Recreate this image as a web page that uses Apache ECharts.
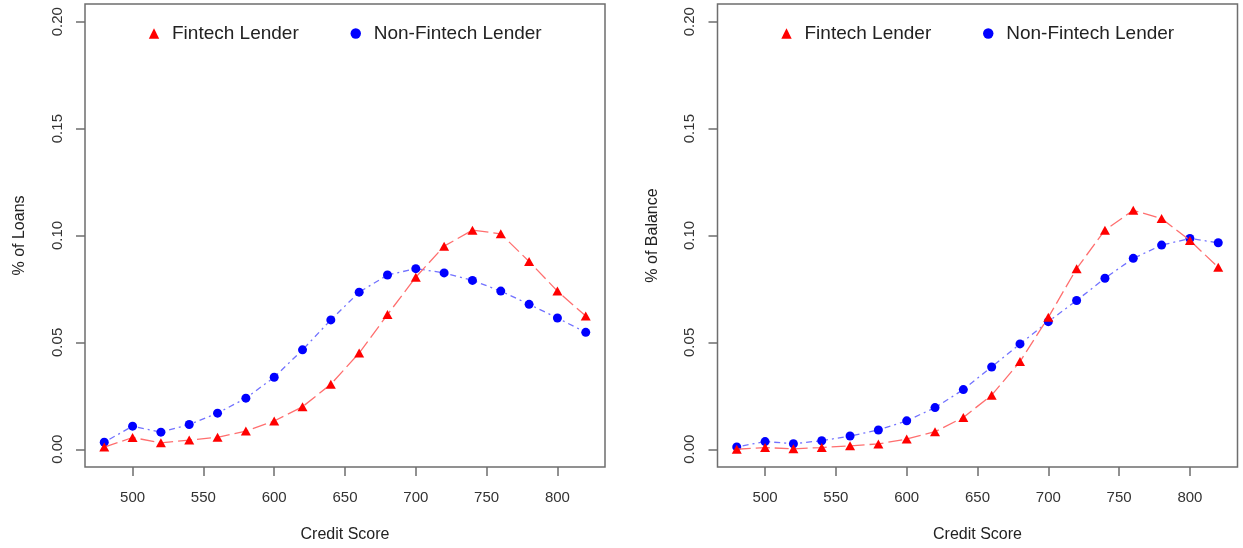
<!DOCTYPE html>
<html>
<head>
<meta charset="utf-8">
<script src="https://cdn.jsdelivr.net/npm/echarts@6/dist/echarts.min.js"></script>
<style>
  html, body { margin: 0; padding: 0; background: #fff; }
  #chart { width: 1243px; height: 548px; }
</style>
</head>
<body>
<div id="chart"></div>
<script>
const scores = [480, 500, 520, 540, 560, 580, 600, 620, 640, 660, 680, 700, 720, 740, 760, 780, 800, 820];

// left panel: share of loans
const loansFintech = [0.001, 0.0055, 0.003, 0.0043, 0.0056, 0.0085, 0.0132, 0.0199, 0.0304, 0.045, 0.063, 0.0805, 0.095, 0.1025, 0.1008, 0.0878, 0.074, 0.0623];
const loansNonFintech = [0.0033, 0.0108, 0.008, 0.0116, 0.0169, 0.0239, 0.0337, 0.0465, 0.0605, 0.0735, 0.0815, 0.0845, 0.0825, 0.079, 0.074, 0.0678, 0.0614, 0.0547];

// right panel: share of balance
const balanceFintech = [0.0, 0.0008, 0.0002, 0.0008, 0.0016, 0.0025, 0.0048, 0.0082, 0.0149, 0.0253, 0.041, 0.0617, 0.0845, 0.1025, 0.1118, 0.1079, 0.0977, 0.0851];
const balanceNonFintech = [0.0011, 0.0036, 0.0026, 0.004, 0.0062, 0.009, 0.0133, 0.0195, 0.0279, 0.0385, 0.0493, 0.0597, 0.0696, 0.080, 0.0893, 0.0955, 0.0986, 0.0966];

const xTicks = [500, 550, 600, 650, 700, 750, 800];
const yTicks = [0, 0.05, 0.1, 0.15, 0.2];

const FONT = "'Liberation Sans', Arial, sans-serif";
const AXIS_GREY = "#6e6e6e";

const pairs = (vals) => scores.map((s, i) => [s, vals[i]]);

const makeX = (gridIndex) => ({
  type: "value",
  gridIndex,
  min: 466.4,
  max: 833.6,
  name: "Credit Score",
  nameLocation: "middle",
  nameGap: 60,
  nameTextStyle: { fontFamily: FONT, fontSize: 16, color: "#222" },
  axisLine: { show: false, onZero: false },
  axisTick: {
    show: true,
    length: 9,
    customValues: xTicks,
    lineStyle: { color: AXIS_GREY, width: 1.5 },
  },
  axisLabel: {
    customValues: xTicks,
    margin: 23,
    fontFamily: FONT,
    fontSize: 15,
    color: "#333",
  },
  splitLine: { show: false },
});

const makeY = (gridIndex, title) => ({
  type: "value",
  gridIndex,
  min: -0.0083,
  max: 0.2083,
  name: title,
  nameLocation: "middle",
  nameGap: 57,
  nameTextStyle: { fontFamily: FONT, fontSize: 16, color: "#222" },
  axisLine: { show: false, onZero: false },
  axisTick: {
    show: true,
    length: 9,
    customValues: yTicks,
    lineStyle: { color: AXIS_GREY, width: 1.5 },
  },
  axisLabel: {
    customValues: yTicks,
    rotate: 90,
    margin: 20,
    fontFamily: FONT,
    fontSize: 15,
    color: "#333",
    formatter: (v) => v.toFixed(2),
  },
  splitLine: { show: false },
});

const fintechSeries = (idx, vals) => ({
  name: "Fintech Lender",
  type: "line",
  xAxisIndex: idx,
  yAxisIndex: idx,
  data: pairs(vals),
  symbol: "triangle",
  symbolSize: [10, 9],
  itemStyle: { color: "#ff0000" },
  lineStyle: { color: "#ff6f6f", width: 1.3, type: [14, 5] },
  silent: true,
  z: 3,
});

const nonFintechSeries = (idx, vals) => ({
  name: "Non-Fintech Lender",
  type: "line",
  xAxisIndex: idx,
  yAxisIndex: idx,
  data: pairs(vals),
  symbol: "circle",
  symbolSize: 9,
  itemStyle: { color: "#0000ff" },
  lineStyle: { color: "#7272ff", width: 1.3, type: [2, 4, 6, 4] },
  silent: true,
  z: 2,
});

// line icons with the line hidden, so the symbol sits centred in a wide slot
const makeLegend = (left) => ({
  left,
  top: 19,
  orient: "horizontal",
  itemWidth: 26,
  itemHeight: 13,
  itemGap: 44,
  selectedMode: false,
  lineStyle: { width: 0, opacity: 0 },
  textStyle: { fontFamily: FONT, fontSize: 19, color: "#222" },
  data: ["Fintech Lender", "Non-Fintech Lender"],
});

const chart = echarts.init(document.getElementById("chart"), null, { renderer: "canvas" });

chart.setOption({
  animation: false,
  backgroundColor: "#fff",
  grid: [
    { left: 85, top: 4, width: 520, height: 465, show: true, borderColor: AXIS_GREY, borderWidth: 1.5, backgroundColor: "transparent" },
    { left: 717.5, top: 4, width: 520, height: 465, show: true, borderColor: AXIS_GREY, borderWidth: 1.5, backgroundColor: "transparent" },
  ],
  legend: [makeLegend(136), makeLegend(768.5)],
  xAxis: [makeX(0), makeX(1)],
  yAxis: [makeY(0, "% of Loans"), makeY(1, "% of Balance")],
  series: [
    fintechSeries(0, loansFintech),
    nonFintechSeries(0, loansNonFintech),
    fintechSeries(1, balanceFintech),
    nonFintechSeries(1, balanceNonFintech),
  ],
});
</script>
</body>
</html>
